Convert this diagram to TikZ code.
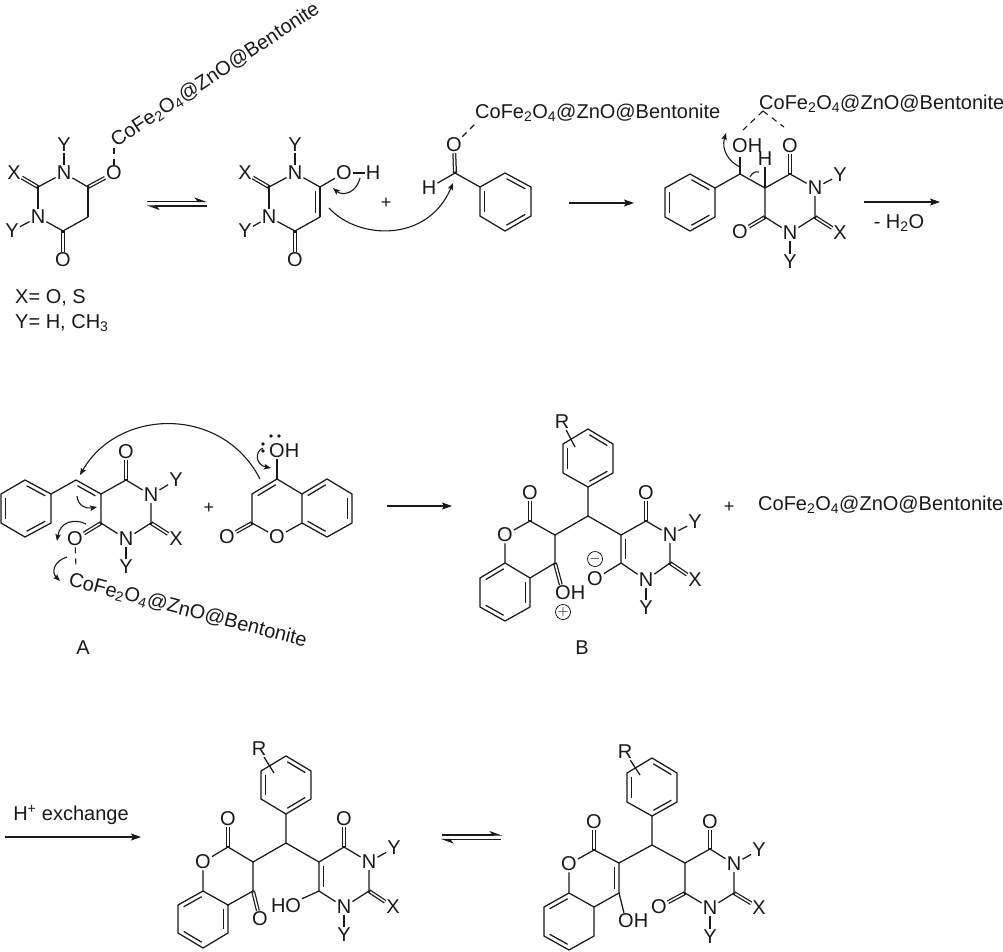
\documentclass[tikz,border=0pt]{standalone}
\usepackage{fontspec}
\setmainfont{Liberation Sans}
\usetikzlibrary{calc,arrows.meta}
\newcommand{\cofe}{CoFe\textsubscript{2}O\textsubscript{4}@ZnO@Bentonite}
\tikzset{
 bond/.style={line width=1.25pt,black!90},
 dbl/.style={line width=4pt,black!90,postaction={draw=white,line width=1.5pt,shorten <=1.5pt}},
 atom/.style={font=\fontsize{20}{22}\selectfont,inner sep=1pt,text=black!90},
 txt/.style={font=\fontsize{20}{22}\selectfont,inner sep=0pt,text=black!90},
 dbond/.style={line width=1.1pt,dash pattern=on 6pt off 5pt,black!90},
 rxn/.style={line width=1.1pt,black!90,-{Stealth[length=10pt,width=7pt,inset=2pt]}},
 curly/.style={line width=1.1pt,black!90,-{Stealth[length=7pt,width=5.5pt,inset=1.5pt]}},
 eqtop/.style={line width=1.1pt,black!90,-{Stealth[left,length=11pt,width=8pt,inset=3pt]}},
}
\newcommand{\bd}[2]{\draw[bond] (#1)--(#2);}
\newcommand{\dbo}[2]{\draw[dbl] (#1)--(#2);}
% ring double bond: inner line offset on the given side (90 = left, -90 = right of #1 to #2)
\newcommand{\inn}[3]{\draw[bond] ($(#1)!.14!(#2)!4.3pt!#3:(#2)$)--($(#2)!.14!(#1)!-4.3pt!#3:(#1)$);}
\newcommand{\ringcycle}[6]{\draw[bond] (#1)--(#2)--(#3)--(#4)--(#5)--(#6)--cycle;}
\begin{document}
\begin{tikzpicture}[x=1pt,y=-1pt]
\useasboundingbox (0,0) rectangle (1003,951);
% ---------- molecule 1
\node[atom] (n1) at (64,173) {N};
\node[atom] (y1) at (64,145) {Y};
\node[atom] (x1) at (14,173) {X};
\coordinate (c2) at (38,187);
\node[atom] (n3) at (38,217) {N};
\node[atom] (y3) at (12,231) {Y};
\coordinate (c6) at (63,231);
\node[atom] (o6) at (63,260) {O};
\coordinate (c5) at (88,217);
\coordinate (c4) at (88,187);
\node[atom] (o4) at (114,173) {O};
\node[txt,rotate=33.5,anchor=south west] (cf1) at (118,150) {\cofe};
\bd{n1}{y1}\bd{n1}{c2}\bd{c2}{n3}\bd{n3}{y3}\bd{n3}{c6}\bd{c6}{c5}\bd{c5}{c4}\bd{c4}{n1}
\dbo{c2}{x1}\dbo{c6}{o6}\dbo{c4}{o4}
\coordinate (cf1b) at (114,143);
\draw[dbond] (o4)--(cf1b);
\node[txt,anchor=west] (xeq) at (15,298) {X= O, S};
\node[txt,anchor=west] (yeq) at (15,323) {Y= H, CH\textsubscript{3}};
% equilibrium 1
\coordinate (e1a) at (147,201.5); \coordinate (e1b) at (207,201.5);
\coordinate (e1c) at (207,206); \coordinate (e1d) at (147,206);
\draw[eqtop] (e1a)--(e1b); \draw[eqtop] (e1c)--(e1d);
% ---------- molecule 2
\node[atom] (n1) at (295,173) {N};
\node[atom] (y1) at (295,145) {Y};
\node[atom] (x1) at (245,173) {X};
\coordinate (c2) at (269,187);
\node[atom] (n3) at (269,217) {N};
\node[atom] (y3) at (245,231) {Y};
\coordinate (c6) at (295,231);
\node[atom] (o6) at (295,260) {O};
\coordinate (c5) at (320,217);
\coordinate (c4) at (320,187);
\node[atom] (o4) at (344,173) {O};
\node[atom] (h4) at (373,173) {H};
\bd{n1}{y1}\bd{n1}{c2}\bd{c2}{n3}\bd{n3}{y3}\bd{n3}{c6}\bd{c6}{c5}\bd{c5}{c4}\bd{c4}{n1}\bd{c4}{o4}\bd{o4}{h4}
\dbo{c2}{x1}\dbo{c6}{o6}\inn{c4}{c5}{-90}
\node[txt] (p1) at (386,203) {\fontsize{18}{18}\selectfont +};
% benzaldehyde
\node[atom] (ob) at (454,145) {O};
\coordinate (cb) at (455,173);
\node[atom] (hb) at (429,188) {H};
\coordinate (b1) at (480,187);\coordinate (b2) at (505,173);\coordinate (b3) at (531,187);
\coordinate (b4) at (531,216);\coordinate (b5) at (505,231);\coordinate (b6) at (480,216);
\ringcycle{b1}{b2}{b3}{b4}{b5}{b6}
\inn{b1}{b6}{90}\inn{b2}{b3}{-90}\inn{b4}{b5}{-90}
\bd{cb}{hb}\bd{cb}{b1}\dbo{cb}{ob}
\node[txt,anchor=west] (cf2) at (475,113) {\cofe};
\coordinate (cf2b) at (476,123);
\draw[dbond] (ob)--(cf2b);
% mech arrows
\coordinate (m1a) at (329,208);\coordinate (m1b) at (453,183);
\draw[curly] (m1a) .. controls (358,240) and (428,243) .. (m1b);
\coordinate (m2a) at (360,178);\coordinate (m2b) at (333,188);
\draw[curly] (m2a) .. controls (356,194) and (342,196) .. (m2b);
% arrow
\coordinate (r1a) at (569,203);\coordinate (r1b) at (634,203);
\draw[rxn] (r1a)--(r1b);
% ---------- molecule 3
\coordinate (a1) at (690,174);\coordinate (a2) at (715,188);\coordinate (a3) at (715,217);
\coordinate (a4) at (690,231);\coordinate (a5) at (665,217);\coordinate (a6) at (665,188);
\ringcycle{a1}{a2}{a3}{a4}{a5}{a6}
\inn{a1}{a2}{-90}\inn{a3}{a4}{-90}\inn{a5}{a6}{-90}
\coordinate (cc) at (740,174);
\node[txt,anchor=west] (oh3) at (732,146) {OH};
\coordinate (c5) at (765,188);
\node[atom] (h5) at (765,159) {H};
\coordinate (c4) at (790,174);
\node[atom] (o4) at (790,146) {O};
\node[atom] (n3) at (815,188) {N};
\node[atom] (y3) at (840,175) {Y};
\coordinate (c2) at (815,217);
\node[atom] (x2) at (840,233) {X};
\node[atom] (n1) at (790,233) {N};
\node[atom] (y1) at (790,262) {Y};
\coordinate (c6) at (765,217);
\node[atom] (o6) at (740,232) {O};
\coordinate (oh3b) at (740,157);
\draw[bond] (a2)--(cc)--(c5)--(c4)--(n3) (n3)--(c2) (c2)--(n1) (n1)--(c6)--(c5);
\draw[bond] (cc)--(oh3b);
\bd{c5}{h5}\bd{n3}{y3}\bd{n1}{y1}
\dbo{c4}{o4}\dbo{c2}{x2}\dbo{c6}{o6}
\node[txt,anchor=west] (cf3) at (759,104) {\cofe};
\coordinate (ap) at (763,111);\coordinate (dl) at (743,130);\coordinate (dr) at (784,127);
\draw[dbond] (ap)--(dl) (ap)--(dr);
\coordinate (m3a) at (740,167);\coordinate (m3b) at (726,133);
\draw[curly] (m3a) .. controls (729,162) and (721,150) .. (m3b);
\coordinate (m4a) at (750,177);\coordinate (m4b) at (759,172);
\draw[bond,line width=1.1pt] (m4a) .. controls (752,173) and (755,171) .. (m4b);
\coordinate (r2a) at (864,202);\coordinate (r2b) at (940,202);
\draw[rxn] (r2a)--(r2b);
\node[txt] (wat) at (899,223) {- H\textsubscript{2}O};
% ---------- molecule A
\coordinate (a1) at (25,480);\coordinate (a2) at (51,494);\coordinate (a3) at (51,523);
\coordinate (a4) at (25,537);\coordinate (a5) at (1,523);\coordinate (a6) at (1,494);
\ringcycle{a1}{a2}{a3}{a4}{a5}{a6}
\inn{a1}{a2}{-90}\inn{a3}{a4}{-90}\inn{a5}{a6}{-90}
\coordinate (cc) at (76,480);\coordinate (c5) at (101,494);\coordinate (c4) at (126,480);
\node[atom] (o4) at (126,452) {O};
\node[atom] (n3) at (151,495) {N};
\node[atom] (y3) at (176,480) {Y};
\coordinate (c2) at (151,523);
\node[atom] (x2) at (176,539) {X};
\node[atom] (n1) at (126,539) {N};
\node[atom] (y1) at (126,567) {Y};
\coordinate (c6) at (101,523);
\node[atom] (o6) at (75,539) {O};
\draw[bond] (a2)--(cc) (c5)--(c4)--(n3) (n3)--(c2) (c2)--(n1) (n1)--(c6)--(c5);
\bd{cc}{c5}\inn{cc}{c5}{-90}
\bd{n3}{y3}\bd{n1}{y1}\dbo{c4}{o4}\dbo{c2}{x2}\dbo{c6}{o6}
\node[txt,rotate=-14.5,anchor=west] (cfa) at (69,580) {\cofe};
\coordinate (oc) at (76,568);
\draw[dbond] (o6)--(oc);
% coumarin
\node[atom] (oo) at (277,451) {O};
\node[atom] (hh) at (292,451) {H};
\fill[black!90] (271,436) circle (1.8) (279,436) circle (1.8) (263,444) circle (1.8) (263,451) circle (1.8);
\coordinate (k4) at (277,479);\coordinate (k3) at (252,494);\coordinate (k2) at (252,523);
\node[atom] (ko) at (227,537) {O};
\node[atom] (kr) at (277,537) {O};
\coordinate (k8) at (302,523);\coordinate (k5) at (302,494);
\coordinate (k6) at (327,479);\coordinate (k7) at (352,494);\coordinate (k9) at (352,523);\coordinate (k10) at (327,537);
\draw[bond] (k4)--(k3)--(k2)--(kr)--(k8)--(k5)--(k4);
\draw[bond] (k5)--(k6)--(k7)--(k9)--(k10)--(k8);
\bd{k4}{oo}\dbo{k2}{ko}
\inn{k4}{k3}{90}\inn{k5}{k6}{-90}\inn{k7}{k9}{-90}\inn{k10}{k8}{-90}
\node[txt] (p2) at (209,508) {\fontsize{18}{18}\selectfont +};
\node[txt] (la) at (83,648) {A};
% curved arrows A
\coordinate (ca1) at (260,479);\coordinate (ca2) at (80,475);
\draw[curly] (ca1) .. controls (222,405) and (118,408) .. (ca2);
\coordinate (cb1) at (77,496);\coordinate (cb2) at (97,507);
\draw[curly] (cb1) .. controls (78,506) and (86,509) .. (cb2);
\coordinate (cc1) at (86,524);\coordinate (cc2) at (57,541);
\draw[curly] (cc1) .. controls (74,518) and (60,522) .. (cc2);
\coordinate (cd1) at (67,557);\coordinate (cd2) at (60,581);
\draw[curly] (cd1) .. controls (54,561) and (51,572) .. (cd2);
\coordinate (ce1) at (263,448);\coordinate (ce2) at (271,468);
\draw[curly] (ce1) .. controls (254,452) and (256,465) .. (ce2);
\coordinate (r3a) at (387,506);\coordinate (r3b) at (452,506);
\draw[rxn] (r3a)--(r3b);
% ---------- molecule B
\coordinate (p1a) at (588,429);\coordinate (p2a) at (613,444);\coordinate (p3a) at (613,473);
\coordinate (p4a) at (588,487);\coordinate (p5a) at (563,473);\coordinate (p6a) at (563,444);
\ringcycle{p1a}{p2a}{p3a}{p4a}{p5a}{p6a}
\inn{p1a}{p2a}{-90}\inn{p3a}{p4a}{-90}\inn{p5a}{p6a}{-90}
\node[atom] (rr) at (562,422) {R};
\coordinate (rb) at (575,447);\bd{rr}{rb}
\coordinate (ch) at (588,516);
\coordinate (q3) at (555,535);\coordinate (q2) at (530,521);
\node[atom] (qo) at (530,493) {O};
\node[atom] (qr) at (505,535) {O};
\coordinate (q8) at (505,563);\coordinate (q5) at (530,578);\coordinate (q4) at (555,563);
\coordinate (q6) at (530,607);\coordinate (q7) at (505,621);\coordinate (q9) at (480,607);\coordinate (q10) at (480,578);
\node[atom] (qoh) at (563,593) {O};
\node[atom] (qhh) at (578,593) {H};
\draw[bond] (p4a)--(ch)--(q3)--(q2)--(qr)--(q8)--(q5)--(q4)--(q3);
\draw[bond] (q5)--(q6)--(q7)--(q9)--(q10)--(q8);
\dbo{q2}{qo}\dbo{q4}{qoh}
\inn{q5}{q6}{-90}\inn{q7}{q9}{-90}\inn{q10}{q8}{-90}
\coordinate (c5) at (621,535);\coordinate (c4) at (646,521);
\node[atom] (o4) at (646,493) {O};
\node[atom] (n3) at (670,535) {N};
\node[atom] (y3) at (695,522) {Y};
\coordinate (c2) at (670,563);
\node[atom] (x2) at (695,580) {X};
\node[atom] (n1) at (646,580) {N};
\node[atom] (y1) at (646,608) {Y};
\coordinate (c6) at (621,563);
\node[atom] (o6) at (595,579) {O};
\draw[bond] (ch)--(c5)--(c4)--(n3) (n3)--(c2) (c2)--(n1) (n1)--(c6)--(c5);
\inn{c5}{c6}{90}\bd{n3}{y3}\bd{n1}{y1}\bd{c6}{o6}\dbo{c4}{o4}\dbo{c2}{x2}
\node[draw,circle,line width=.7pt,inner sep=0pt,minimum size=15pt] (minus) at (595,559) {\fontsize{14}{14}\selectfont$-$};
\node[draw,circle,line width=.7pt,inner sep=0pt,minimum size=15pt] (plus) at (563,612) {\fontsize{14}{14}\selectfont$+$};
\node[txt] (p3) at (729,507) {\fontsize{18}{18}\selectfont +};
\node[txt,anchor=west] (cf4) at (758,505) {\cofe};
\node[txt] (lb) at (582,648) {B};
% ---------- bottom
\node[txt] (hex) at (71,815) {H\textsuperscript{+} exchange};
\coordinate (r4a) at (5,837);\coordinate (r4b) at (141,837);
\draw[rxn] (r4a)--(r4b);
% molecule C
\coordinate (p1a) at (286,756);\coordinate (p2a) at (311,771);\coordinate (p3a) at (311,799);
\coordinate (p4a) at (286,814);\coordinate (p5a) at (261,799);\coordinate (p6a) at (261,771);
\ringcycle{p1a}{p2a}{p3a}{p4a}{p5a}{p6a}
\inn{p1a}{p2a}{-90}\inn{p3a}{p4a}{-90}\inn{p5a}{p6a}{-90}
\node[atom] (rr) at (259,749) {R};
\coordinate (rb) at (274,773);\bd{rr}{rb}
\coordinate (ch) at (286,843);
\coordinate (q3) at (253,862);\coordinate (q2) at (228,847);
\node[atom] (qo) at (228,819) {O};
\node[atom] (qr) at (203,862) {O};
\coordinate (q8) at (203,891);\coordinate (q5) at (228,905);\coordinate (q4) at (253,891);
\coordinate (q6) at (228,933);\coordinate (q7) at (203,948);\coordinate (q9) at (178,933);\coordinate (q10) at (178,905);
\node[atom] (qoh) at (260,919) {O};
\draw[bond] (p4a)--(ch)--(q3)--(q2)--(qr)--(q8)--(q5)--(q4)--(q3);
\draw[bond] (q5)--(q6)--(q7)--(q9)--(q10)--(q8);
\dbo{q2}{qo}\dbo{q4}{qoh}
\inn{q5}{q6}{-90}\inn{q7}{q9}{-90}\inn{q10}{q8}{-90}
\coordinate (c5) at (319,862);\coordinate (c4) at (344,847);
\node[atom] (o4) at (344,819) {O};
\node[atom] (n3) at (369,862) {N};
\node[atom] (y3) at (394,848) {Y};
\coordinate (c2) at (369,891);
\node[atom] (x2) at (393,907) {X};
\node[atom] (n1) at (344,907) {N};
\node[atom] (y1) at (344,935) {Y};
\coordinate (c6) at (319,891);
\node[atom] (o6) at (286,906) {HO};
\draw[bond] (ch)--(c5)--(c4)--(n3) (n3)--(c2) (c2)--(n1) (n1)--(c6)--(c5);
\inn{c5}{c6}{90}\bd{n3}{y3}\bd{n1}{y1}\bd{c6}{o6}\dbo{c4}{o4}\dbo{c2}{x2}
% equilibrium 2
\coordinate (e2a) at (442,835); \coordinate (e2b) at (502,835);
\coordinate (e2c) at (501,839.5); \coordinate (e2d) at (441,839.5);
\draw[eqtop] (e2a)--(e2b); \draw[eqtop] (e2c)--(e2d);
% molecule D
\coordinate (p1a) at (652,758);\coordinate (p2a) at (677,773);\coordinate (p3a) at (677,802);
\coordinate (p4a) at (652,816);\coordinate (p5a) at (627,802);\coordinate (p6a) at (627,773);
\ringcycle{p1a}{p2a}{p3a}{p4a}{p5a}{p6a}
\inn{p1a}{p2a}{-90}\inn{p3a}{p4a}{-90}\inn{p5a}{p6a}{-90}
\node[atom] (rr) at (625,752) {R};
\coordinate (rb) at (640,775);\bd{rr}{rb}
\coordinate (ch) at (652,845);
\coordinate (q3) at (619,863);\coordinate (q2) at (594,850);
\node[atom] (qo) at (594,822) {O};
\node[atom] (qr) at (569,864) {O};
\coordinate (q8) at (569,893);\coordinate (q5) at (594,907);\coordinate (q4) at (619,893);
\coordinate (q6) at (594,936);\coordinate (q7) at (569,950);\coordinate (q9) at (544,936);\coordinate (q10) at (544,907);
\node[atom] (qoh) at (626,921) {O};
\node[atom] (qhh) at (641,921) {H};
\draw[bond] (p4a)--(ch)--(q3)--(q2)--(qr)--(q8)--(q5)--(q4)--(q3);
\draw[bond] (q5)--(q6)--(q7)--(q9)--(q10)--(q8);
\dbo{q2}{qo}\bd{q4}{qoh}
\inn{q3}{q4}{-90}\inn{q7}{q9}{-90}\inn{q10}{q8}{-90}
\coordinate (c5) at (685,863);\coordinate (c4) at (710,849);
\node[atom] (o4) at (710,822) {O};
\node[atom] (n3) at (734,864) {N};
\node[atom] (y3) at (759,850) {Y};
\coordinate (c2) at (734,893);
\node[atom] (x2) at (759,908) {X};
\node[atom] (n1) at (710,908) {N};
\node[atom] (y1) at (710,937) {Y};
\coordinate (c6) at (685,893);
\node[atom] (o6) at (659,907) {O};
\draw[bond] (ch)--(c5)--(c4)--(n3) (n3)--(c2) (c2)--(n1) (n1)--(c6)--(c5);
\bd{n3}{y3}\bd{n1}{y1}\dbo{c6}{o6}\dbo{c4}{o4}\dbo{c2}{x2}
\end{tikzpicture}
\end{document}
